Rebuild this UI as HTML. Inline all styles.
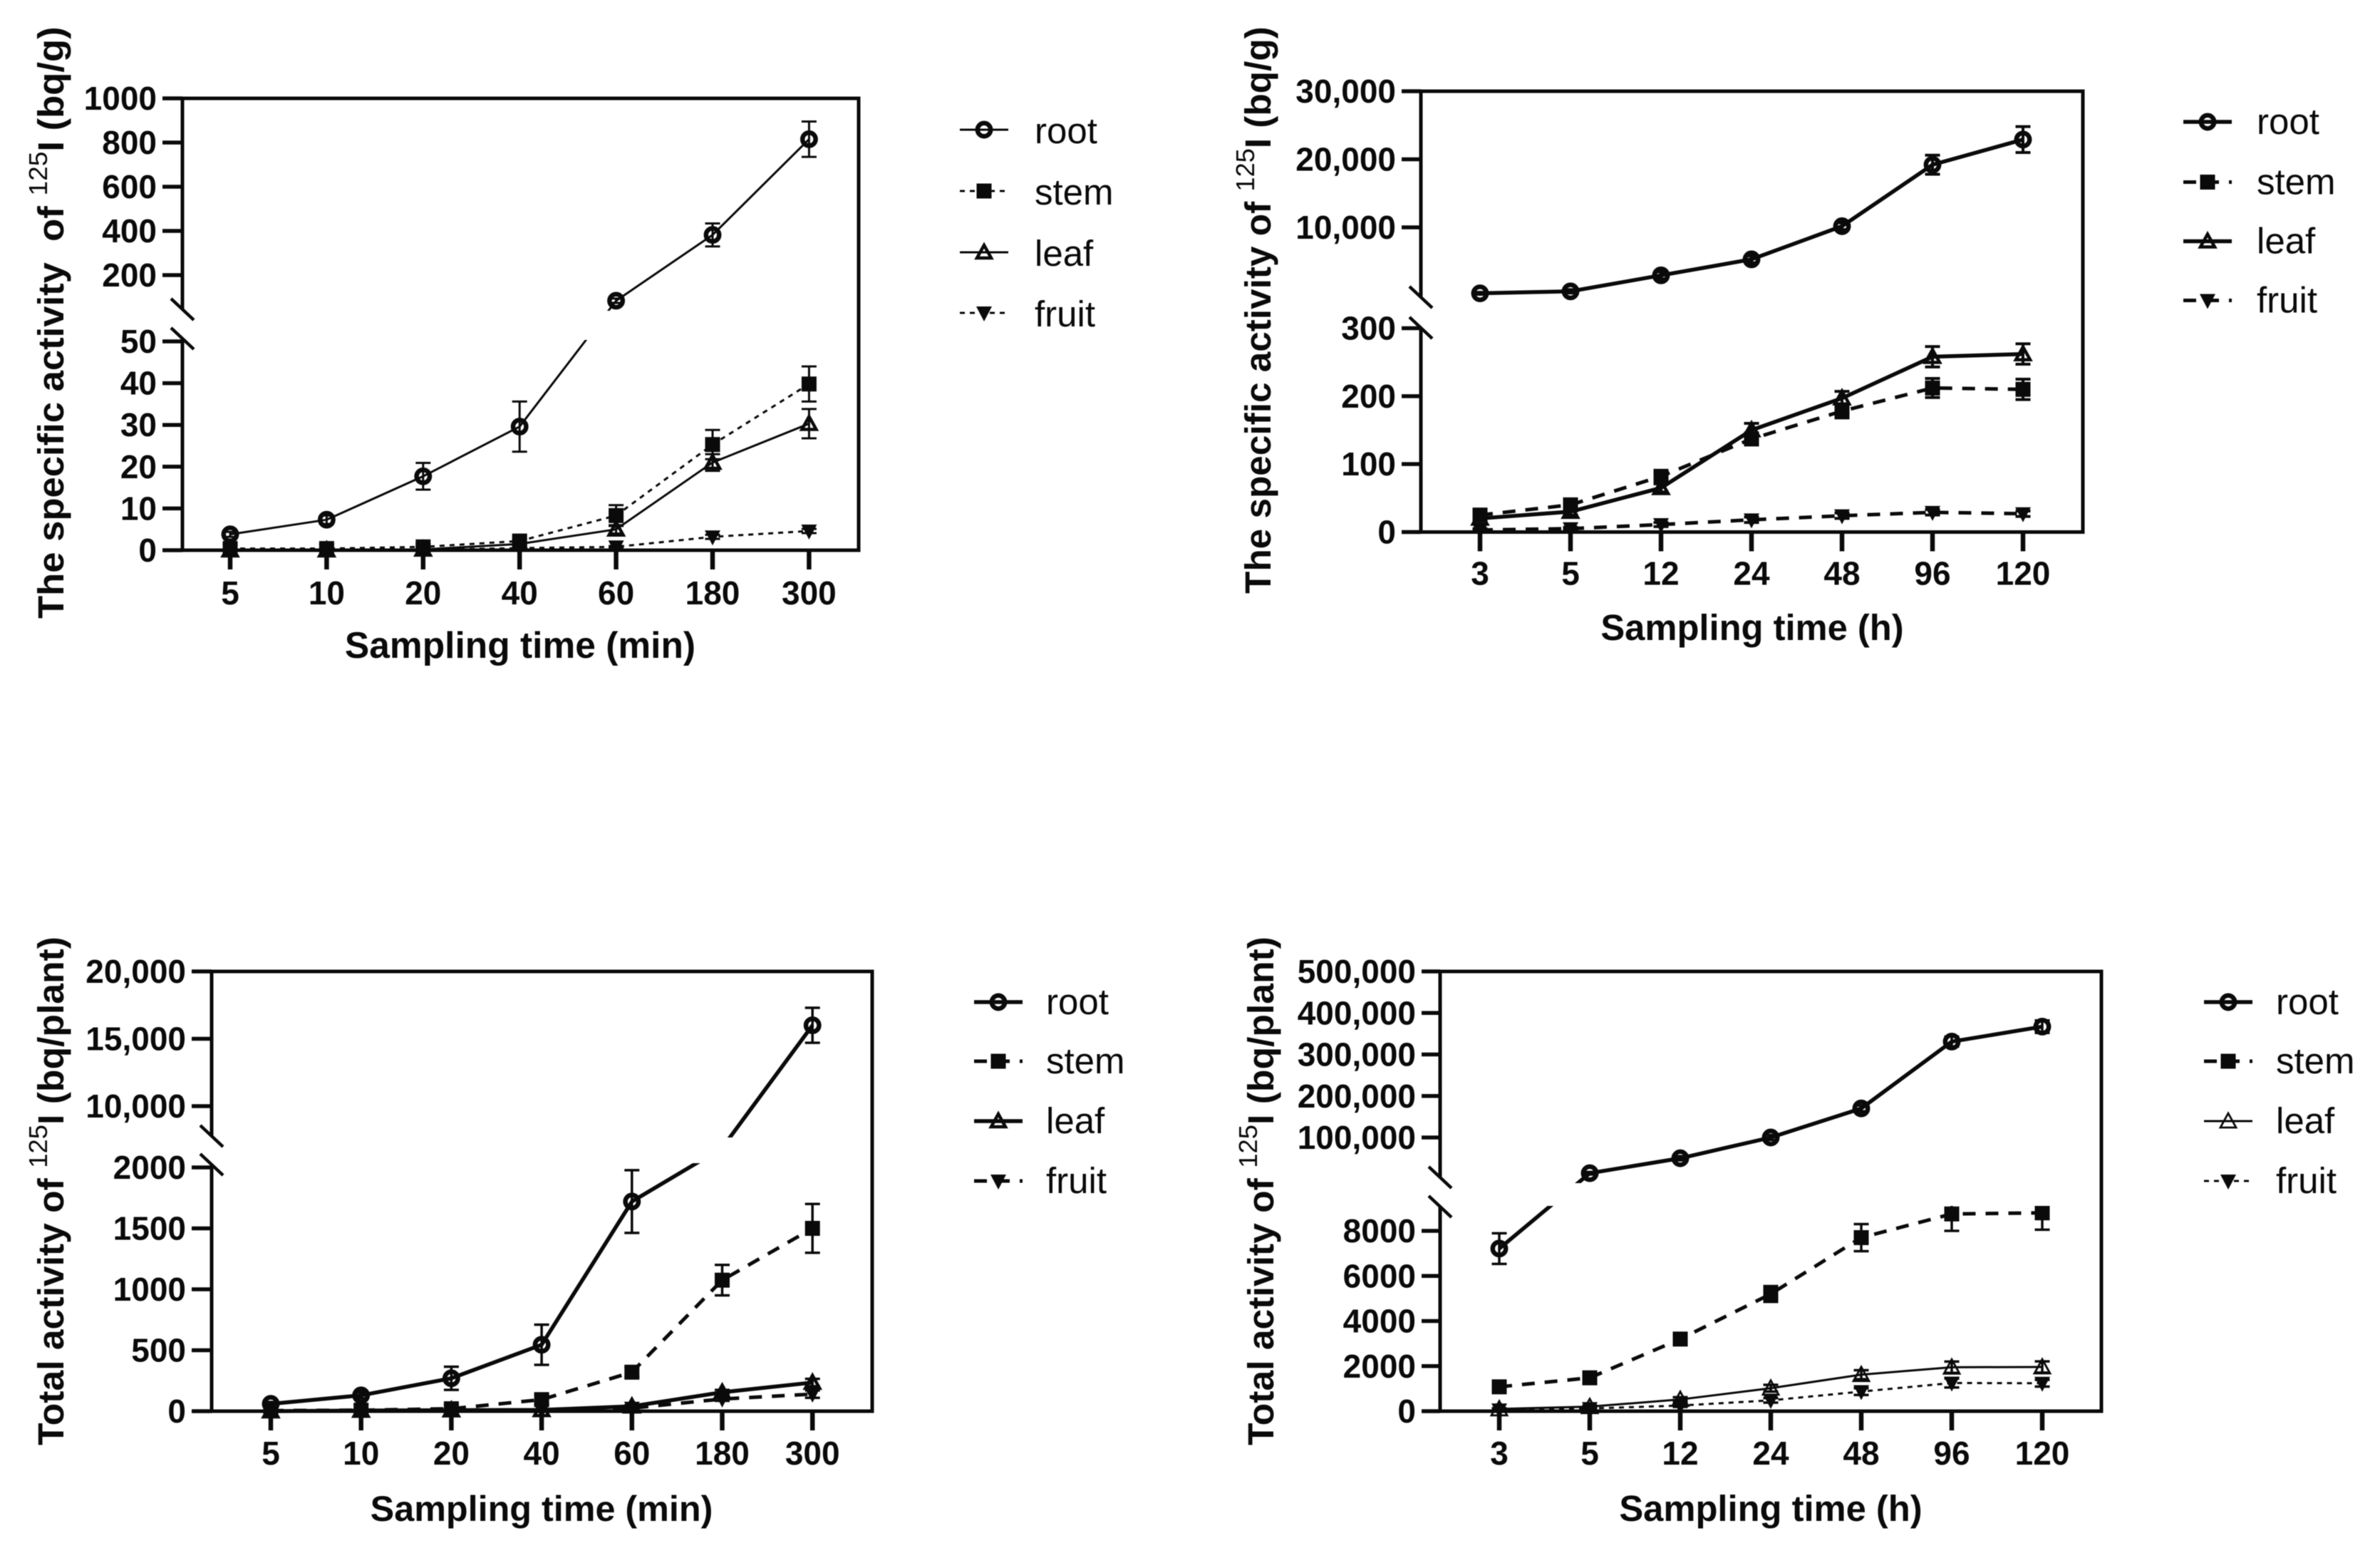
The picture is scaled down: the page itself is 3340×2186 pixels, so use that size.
<!DOCTYPE html>
<html lang="en">
<head>
<meta charset="utf-8">
<title>Activity of 125I in plant tissues</title>
<style>
html,body{margin:0;padding:0;background:#fff;}
svg{display:block;filter:blur(0.6px);}
text{font-family:"Liberation Sans",sans-serif;fill:#0a0a0a;white-space:pre;}
</style>
</head>
<body>
<svg id="figure" xmlns="http://www.w3.org/2000/svg" width="3340" height="2186" viewBox="0 0 3340 2186">
<rect x="0" y="0" width="3340" height="2186" fill="#ffffff"/>
</svg>
<script>
// ---------- shared categories ----------
const minuteCategories = ['5','10','20','40','60','180','300'];
const hourCategories = ['3','5','12','24','48','96','120'];
const seriesNames = ['root','stem','leaf','fruit'];

// ---------- panel A: specific activity, minutes ----------
const aUpperTicks = [1000,800,600,400,200];
const aUpperLabels = ['1000','800','600','400','200'];
const aLowerTicks = [50,40,30,20,10,0];
const aLowerLabels = ['50','40','30','20','10','0'];
const aRoot = [3.8,7.3,17.7,29.6,84,382,815];
const aRootErr = [0.6,1,3.2,6,10,52,80];
const aStem = [0.4,0.4,0.8,2.2,8.3,25.3,39.8];
const aStemErr = [0.2,0.2,0.3,0.5,2.5,3.5,4.2];
const aLeaf = [0,0,0.2,1.5,5,21,30.3];
const aLeafErr = [0.1,0.1,0.1,0.3,1,2,3.5];
const aFruit = [0,0,0.1,0.5,0.8,3.2,4.6];
const aFruitErr = [0.1,0.1,0.1,0.1,0.2,0.5,0.5];

// ---------- panel B: specific activity, hours ----------
const bUpperTicks = [30000,20000,10000];
const bUpperLabels = ['30,000','20,000','10,000'];
const bLowerTicks = [300,200,100,0];
const bLowerLabels = ['300','200','100','0'];
const bRoot = [310,600,2950,5300,10170,19200,22900];
const bRootErr = [150,250,500,500,500,1400,1900];
const bStem = [25,40,82,137,178,212,210];
const bStemErr = [6,6,8,8,10,14,15];
const bLeaf = [20,30,65,150,197,258,262];
const bLeafErr = [4,5,6,10,10,15,15];
const bFruit = [3,5,11,18,24,29,27];
const bFruitErr = [2,2,3,4,4,4,4];

// ---------- panel C: total activity, minutes ----------
const cUpperTicks = [20000,15000,10000];
const cUpperLabels = ['20,000','15,000','10,000'];
const cLowerTicks = [2000,1500,1000,500,0];
const cLowerLabels = ['2000','1500','1000','500','0'];
const cRoot = [60,130,270,545,1720,6900,16000];
const cRootErr = [15,25,95,165,257,300,1300];
const cStem = [5,8,20,95,320,1075,1500];
const cStemErr = [2,3,5,40,40,125,200];
const cLeaf = [0,5,8,10,40,155,235];
const cLeafErr = [1,2,3,3,8,20,30];
const cFruit = [0,3,5,8,25,100,140];
const cFruitErr = [1,1,2,2,5,15,30];

// ---------- panel D: total activity, hours ----------
const dUpperTicks = [500000,400000,300000,200000,100000];
const dUpperLabels = ['500,000','400,000','300,000','200,000','100,000'];
const dLowerTicks = [8000,6000,4000,2000,0];
const dLowerLabels = ['8000','6000','4000','2000','0'];
const dRoot = [7215,14000,50000,100000,170000,331000,367000];
const dRootErr = [680,3000,5000,6000,7000,12000,15000];
const dStem = [1080,1480,3200,5200,7700,8750,8800];
const dStemErr = [100,100,250,350,600,750,750];
const dLeaf = [100,200,520,1020,1620,1950,1960];
const dLeafErr = [30,50,100,150,200,250,250];
const dFruit = [60,120,250,480,870,1250,1240];
const dFruitErr = [20,30,60,100,150,200,150];

const SVGNS = 'http://www.w3.org/2000/svg';
const svg = document.getElementById('figure');

function el(tag, attrs, parent) {
  const n = document.createElementNS(SVGNS, tag);
  for (const k in attrs) n.setAttribute(k, attrs[k]);
  parent.appendChild(n);
  return n;
}

// Piecewise axis: values above lowerMax use the upper segment.
function linear(dom, rng) {
  return function (v) {
    return rng[0] + (v - dom[0]) * (rng[1] - rng[0]) / (dom[1] - dom[0]);
  };
}
function bandFor(p, v) {
  return v > p.lowerMax ? p.upperScale : p.lowerScale;
}
function xFor(p, i) {
  return p.xFirst + i * p.xStep;
}

function drawMarker(g, kind, cx, cy, thin, name) {
  let m;
  if (kind === 'root') {
    m = el('circle', {cx: cx, cy: cy, r: 9.2, fill: 'none', stroke: '#0a0a0a', 'stroke-width': 6.5}, g);
  } else if (kind === 'stem') {
    m = el('rect', {x: cx - 10.5, y: cy - 10.5, width: 21, height: 21, fill: '#0a0a0a'}, g);
  } else if (kind === 'leaf') {
    const h = thin ? 11 : 10;
    const d = thin ? 9 : 8;
    m = el('polygon', {points: cx + ',' + (cy - h) + ' ' + (cx + h) + ',' + (cy + d) + ' ' + (cx - h) + ',' + (cy + d), fill: 'none', stroke: '#0a0a0a', 'stroke-width': thin ? 2.8 : 4.5}, g);
  } else {
    m = el('polygon', {points: (cx - 11) + ',' + (cy - 9) + ' ' + (cx + 11) + ',' + (cy - 9) + ' ' + cx + ',' + (cy + 12), fill: '#0a0a0a'}, g);
  }
  
  
  return m;
}

function drawSeries(p, g, idx) {
  const kind = seriesNames[idx];
  const vals = p.values[idx];
  const errs = p.errors[idx];
  const style = p.lineStyles[idx];
  const sg = el('g', {}, g);
  
  

  vals.forEach(function (v, i) {
    const scale = bandFor(p, v);
    const x = xFor(p, i);
    const yTop = scale(v + errs[i]);
    const yBot = scale(v - errs[i]);
    const eb = el('path', {
      d: 'M' + x + ' ' + yTop + 'V' + yBot + 'M' + (x - 10.5) + ' ' + yTop + 'H' + (x + 10.5) + 'M' + (x - 10.5) + ' ' + yBot + 'H' + (x + 10.5),
      fill: 'none', stroke: '#0a0a0a', 'stroke-width': p.errW
    }, sg);
    
    
  });

  const pts = vals.map(function (v, i) {
    return xFor(p, i) + ',' + bandFor(p, v)(v);
  }).join(' ');
  const ln = el('polyline', {
    points: pts, fill: 'none', stroke: '#0a0a0a',
    'stroke-width': style.w, 'stroke-dasharray': style.dash
  }, sg);
  
  

  vals.forEach(function (v, i) {
    drawMarker(sg, kind, xFor(p, i), bandFor(p, v)(v), style.thinMarker, kind + '-point');
  });
}

function drawYTicks(p, g, ticks, labels, scale) {
  ticks.forEach(function (t, i) {
    const y = scale(t);
    const tk = el('line', {x1: p.tickStart, x2: p.left, y1: y, y2: y, stroke: '#0a0a0a', 'stroke-width': 5.5}, g);
    
    
    const lb = el('text', {x: p.tickStart - 8, y: y + 16, 'text-anchor': 'end', 'font-size': 46, 'font-weight': 'bold'}, g);
    
    
    lb.textContent = labels[i];
  });
}

function drawAxes(p, g) {
  const frame = el('path', {
    d: 'M' + p.tickStart + ' ' + p.top + 'H' + p.right + 'V' + p.bottom + 'H' + p.tickStart,
    fill: 'none', stroke: '#0a0a0a', 'stroke-width': 5
  }, g);
  
  

  const upperAxis = el('line', {x1: p.left, x2: p.left, y1: p.top, y2: p.axisBreakTop, stroke: '#0a0a0a', 'stroke-width': 5}, g);
  
  
  const lowerAxis = el('line', {x1: p.left, x2: p.left, y1: p.axisBreakBottom, y2: p.bottom, stroke: '#0a0a0a', 'stroke-width': 5}, g);
  
  

  [p.axisBreakTop, p.axisBreakBottom].forEach(function (cy) {
    const br = el('line', {x1: p.left - 16, x2: p.left + 16, y1: cy - 15, y2: cy + 15, stroke: '#0a0a0a', 'stroke-width': 4.5}, g);
    
    
  });

  drawYTicks(p, g, p.upperTicks, p.upperLabels, p.upperScale);
  drawYTicks(p, g, p.lowerTicks, p.lowerLabels, p.lowerScale);

  p.categories.forEach(function (c, i) {
    const x = xFor(p, i);
    const tk = el('line', {x1: x, x2: x, y1: p.bottom, y2: p.bottom + 27, stroke: '#0a0a0a', 'stroke-width': 6.5}, g);
    
    
    const lb = el('text', {x: x, y: p.bottom + p.xLabelOffset, 'text-anchor': 'middle', 'font-size': 46, 'font-weight': 'bold'}, g);
    
    
    lb.textContent = c;
  });
}

function drawTitles(p, g) {
  const xt = el('text', {x: p.xTitleX, y: p.xTitleY, 'text-anchor': 'middle', 'font-size': p.xTitleSize, 'font-weight': 'bold'}, g);
  
  
  xt.textContent = p.xTitle;

  const yt = el('text', {'font-size': 51, 'font-weight': 'bold'}, g);
  
  
  const a = el('tspan', {}, yt);
  a.textContent = p.yTitleStart;
  const b = el('tspan', {dy: -23, 'font-size': 36, 'font-weight': 'normal'}, yt);
  b.textContent = '125';
  const c = el('tspan', {dy: 23}, yt);
  c.textContent = 'I ' + p.yTitleUnit;
  const len = yt.getComputedTextLength();
  const sx = p.yTitleLength / len;
  yt.setAttribute('transform', 'translate(' + p.yTitleX + ',' + p.yTitleY + ') rotate(-90) scale(' + sx + ',1)');
}

function drawLegend(p, g) {
  const lg = el('g', {}, g);
  
  
  seriesNames.forEach(function (name, i) {
    const y = p.legendYs[i];
    const style = p.lineStyles[i];
    const e = el('g', {}, lg);
    
    
    const ln = el('line', {x1: p.legendX, x2: p.legendX + 68, y1: y, y2: y, stroke: '#0a0a0a', 'stroke-width': style.w, 'stroke-dasharray': style.dash}, e);
    
    
    drawMarker(e, name, p.legendX + 34, y, style.thinMarker, 'legend-marker');
    const t = el('text', {x: p.legendTextX, y: y + p.legendTextDy, 'font-size': 51}, e);
    
    
    t.textContent = name;
  });
}

function drawPanel(p) {
  p.upperScale = linear(p.upperDomain, p.upperRange);
  p.lowerScale = linear(p.lowerDomain, p.lowerRange);
  const g = el('g', {}, svg);
  
  
  seriesNames.forEach(function (s, idx) { drawSeries(p, g, idx); });
  const gap = el('rect', {x: p.left + 3, y: p.gapTop, width: p.right - p.left - 6, height: p.gapBottom - p.gapTop, fill: '#ffffff'}, g);
  
  
  drawAxes(p, g);
  drawTitles(p, g);
  drawLegend(p, g);
}

const thin = {w: 3, dash: 'none', thinMarker: false};
const thinDash = {w: 3, dash: '7 7', thinMarker: false};
const thick = {w: 5.5, dash: 'none', thinMarker: false};
const thickDash = {w: 5, dash: '18 14', thinMarker: false};
const hairSolid = {w: 3, dash: 'none', thinMarker: true};

drawPanel({
  name: 'panel-specific-activity-minutes',
  categories: minuteCategories,
  values: [aRoot, aStem, aLeaf, aFruit], errors: [aRootErr, aStemErr, aLeafErr, aFruitErr],
  upperTicks: aUpperTicks, upperLabels: aUpperLabels, lowerTicks: aLowerTicks, lowerLabels: aLowerLabels,
  upperDomain: [1000, 200], upperRange: [138, 386], lowerDomain: [50, 0], lowerRange: [479, 772],
  lowerMax: 50, left: 256, right: 1205, top: 138, bottom: 772, tickStart: 228,
  xFirst: 323, xStep: 135.4, gapTop: 436, gapBottom: 477, axisBreakTop: 434, axisBreakBottom: 475,
  lineStyles: [thin, thinDash, thin, thinDash], errW: 3, xLabelOffset: 76,
  xTitle: 'Sampling time (min)', xTitleX: 730, xTitleY: 923, xTitleSize: 51.5,
  yTitleStart: 'The specific activity  of ', yTitleUnit: '(bq/g)', yTitleX: 89, yTitleY: 868, yTitleLength: 831,
  legendX: 1347, legendYs: [182, 268, 354, 439], legendTextX: 1452, legendTextDy: 19
});

drawPanel({
  name: 'panel-specific-activity-hours',
  categories: hourCategories,
  values: [bRoot, bStem, bLeaf, bFruit], errors: [bRootErr, bStemErr, bLeafErr, bFruitErr],
  upperTicks: bUpperTicks, upperLabels: bUpperLabels, lowerTicks: bLowerTicks, lowerLabels: bLowerLabels,
  upperDomain: [30000, 10000], upperRange: [128, 319], lowerDomain: [300, 0], lowerRange: [460.5, 746.5],
  lowerMax: 300, left: 1994, right: 2923, top: 128, bottom: 746.5, tickStart: 1967,
  xFirst: 2077, xStep: 127, gapTop: 428, gapBottom: 458, axisBreakTop: 417, axisBreakBottom: 460,
  lineStyles: [thick, thickDash, thick, thickDash], errW: 4, xLabelOffset: 74,
  xTitle: 'Sampling time (h)', xTitleX: 2459, xTitleY: 898, xTitleSize: 50.7,
  yTitleStart: 'The specific activity of ', yTitleUnit: '(bq/g)', yTitleX: 1783, yTitleY: 833, yTitleLength: 796,
  legendX: 3064, legendYs: [171, 255.5, 338.5, 421.5], legendTextX: 3167, legendTextDy: 17
});

drawPanel({
  name: 'panel-total-activity-minutes',
  categories: minuteCategories,
  values: [cRoot, cStem, cLeaf, cFruit], errors: [cRootErr, cStemErr, cLeafErr, cFruitErr],
  upperTicks: cUpperTicks, upperLabels: cUpperLabels, lowerTicks: cLowerTicks, lowerLabels: cLowerLabels,
  upperDomain: [20000, 10000], upperRange: [1363, 1552], lowerDomain: [2000, 0], lowerRange: [1638, 1980],
  lowerMax: 2040, left: 297, right: 1224, top: 1363, bottom: 1980, tickStart: 269,
  xFirst: 380, xStep: 126.7, gapTop: 1596, gapBottom: 1632, axisBreakTop: 1594, axisBreakBottom: 1634,
  lineStyles: [thick, thickDash, thick, thickDash], errW: 3.5, xLabelOffset: 75,
  xTitle: 'Sampling time (min)', xTitleX: 760, xTitleY: 2134, xTitleSize: 50.3,
  yTitleStart: 'Total activity of ', yTitleUnit: '(bq/plant)', yTitleX: 89, yTitleY: 2028, yTitleLength: 714,
  legendX: 1367, legendYs: [1406, 1489, 1573, 1657], legendTextX: 1468, legendTextDy: 17
});

drawPanel({
  name: 'panel-total-activity-hours',
  categories: hourCategories,
  values: [dRoot, dStem, dLeaf, dFruit], errors: [dRootErr, dStemErr, dLeafErr, dFruitErr],
  upperTicks: dUpperTicks, upperLabels: dUpperLabels, lowerTicks: dLowerTicks, lowerLabels: dLowerLabels,
  upperDomain: [500000, 100000], upperRange: [1363, 1596], lowerDomain: [8000, 0], lowerRange: [1727, 1980],
  lowerMax: 9100, left: 2021, right: 2949, top: 1363, bottom: 1980, tickStart: 1995,
  xFirst: 2104, xStep: 127, gapTop: 1660, gapBottom: 1692, axisBreakTop: 1652, axisBreakBottom: 1693,
  lineStyles: [thick, thickDash, hairSolid, thinDash], errW: 3.5, xLabelOffset: 75,
  xTitle: 'Sampling time (h)', xTitleX: 2485, xTitleY: 2134, xTitleSize: 50.7,
  yTitleStart: 'Total activity of ', yTitleUnit: '(bq/plant)', yTitleX: 1787, yTitleY: 2028, yTitleLength: 714,
  legendX: 3093, legendYs: [1406, 1489, 1573, 1657], legendTextX: 3194, legendTextDy: 17
});
</script>
</body>
</html>
